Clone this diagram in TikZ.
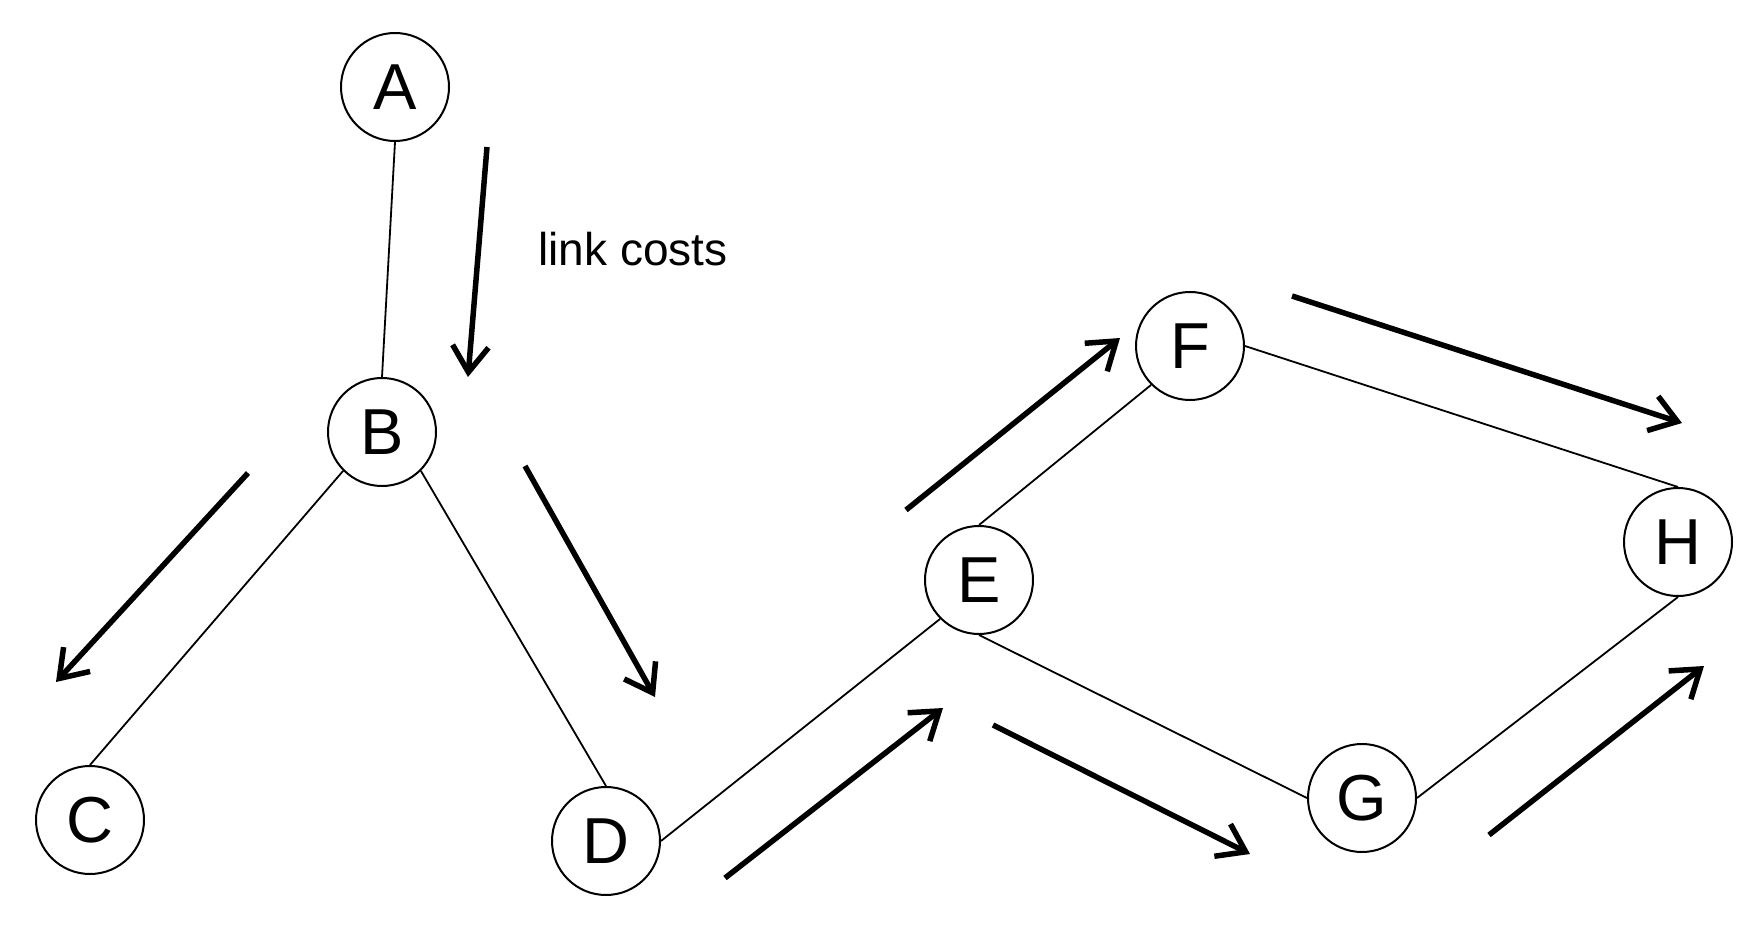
\documentclass[tikz,border=0pt]{standalone}
\usepackage{fontspec}
\setmainfont{Liberation Sans}
\usetikzlibrary{arrows.meta,positioning}

\begin{document}
\begin{tikzpicture}[x=1pt, y=-1pt,
			router/.style={draw, circle, line width=2pt, minimum size=108pt, inner sep=0pt, font=\fontsize{65}{70}\selectfont},
			link/.style={line width=1.8pt},
			flow/.style={-{Straight Barb[length=26pt, width=36pt]}, line width=5.5pt}]
			\useasboundingbox (0,0) rectangle (1757,933);
			% routers
			\node[router] (A) at (395,87) {A};
			\node[router] (B) at (382,432) {B};
			\node[router] (C) at (90,820) {C};
			\node[router] (D) at (606,841) {D};
			\node[router] (E) at (979,580) {E};
			\node[router] (F) at (1190,346) {F};
			\node[router] (G) at (1362,798) {G};
			\node[router] (H) at (1678,542) {H};
			\node[font=\fontsize{46}{50}\selectfont] (cost) at (633,249) {link costs};
			
			% links
			\draw[link] (A.south) -- (B.north);
			\draw[link] (B.south west) -- (C.north);
			\draw[link] (B.south east) -- (D.north);
			\draw[link] (D.east) -- (E.south west);
			\draw[link] (E.north) -- (F.south west);
			\draw[link] (E.south) -- (G.west);
			\draw[link] (F.east) -- (H.north);
			\draw[link] (G.east) -- (H.south);
			
			% cost arrows
			\coordinate (ab1) at (487,147); \coordinate (ab2) at (468,377);
			\coordinate (bc1) at (248,473); \coordinate (bc2) at (56,682);
			\coordinate (bd1) at (525,466); \coordinate (bd2) at (655,697);
			\coordinate (de1) at (725,878); \coordinate (de2) at (943,708);
			\coordinate (ef1) at (906,510); \coordinate (ef2) at (1120,338);
			\coordinate (fh1) at (1292,296); \coordinate (fh2) at (1682,423);
			\coordinate (eg1) at (993,725); \coordinate (eg2) at (1250,854);
			\coordinate (gh1) at (1489,835); \coordinate (gh2) at (1704,666);
			\draw[flow] (ab1) -- (ab2);
			\draw[flow] (bc1) -- (bc2);
			\draw[flow] (bd1) -- (bd2);
			\draw[flow] (de1) -- (de2);
			\draw[flow] (ef1) -- (ef2);
			\draw[flow] (fh1) -- (fh2);
			\draw[flow] (eg1) -- (eg2);
			\draw[flow] (gh1) -- (gh2);
		\end{tikzpicture}
\end{document}
